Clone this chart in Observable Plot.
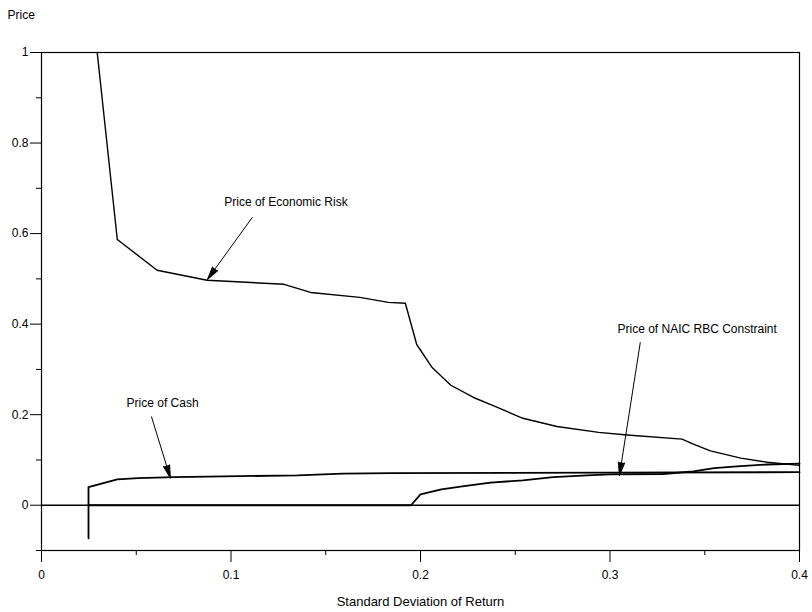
<!DOCTYPE html>
<html><head><meta charset="utf-8">
<script src="https://cdn.jsdelivr.net/npm/d3@7"></script>
<script src="https://cdn.jsdelivr.net/npm/@observablehq/plot@0.6"></script>
<style>body{margin:0;background:#fff}</style>
</head><body><div id="chart"></div>
<script>
// ---- data ----
const econX = [0.0294, 0.040, 0.061, 0.0874, 0.128, 0.142, 0.168, 0.183, 0.192, 0.198, 0.206, 0.216, 0.228, 0.239, 0.254, 0.272, 0.294, 0.309, 0.338, 0.344, 0.353, 0.369, 0.383, 0.400];
const econY = [1.000, 0.587, 0.519, 0.497, 0.488, 0.470, 0.459, 0.448, 0.446, 0.355, 0.305, 0.265, 0.238, 0.219, 0.192, 0.174, 0.161, 0.155, 0.146, 0.135, 0.120, 0.104, 0.095, 0.088];

const cashX = [0.0248, 0.0248, 0.040, 0.051, 0.070, 0.135, 0.159, 0.185, 0.300, 0.400];
const cashY = [-0.073, 0.040, 0.057, 0.060, 0.062, 0.066, 0.070, 0.071, 0.072, 0.073];

const naicX = [0.0248, 0.195, 0.200, 0.211, 0.223, 0.237, 0.254, 0.270, 0.288, 0.300, 0.328, 0.344, 0.355, 0.367, 0.383, 0.400];
const naicY = [0, 0, 0.024, 0.035, 0.042, 0.050, 0.055, 0.062, 0.066, 0.068, 0.069, 0.075, 0.082, 0.086, 0.090, 0.092];

const annLabels = ["Price of Economic Risk", "Price of Cash", "Price of NAIC RBC Constraint"];
const annTextX = [0.129, 0.0639, 0.346];
const annTextY = [0.669, 0.225, 0.389];
const arrowX1 = [0.1113, 0.058, 0.316];
const arrowY1 = [0.636, 0.196, 0.360];
const arrowX2 = [0.0876, 0.068, 0.305];
const arrowY2 = [0.499, 0.060, 0.066];

const yMajor = [0, 0.2, 0.4, 0.6, 0.8, 1];
const yMinor = [-0.1, 0.1, 0.3, 0.5, 0.7, 0.9];
const xMajor = [0, 0.1, 0.2, 0.3, 0.4];
const xMinor = [0.05, 0.15, 0.25, 0.35];

const yTitle = "Price";
const xTitle = "Standard Deviation of Return";

// ---- layout ----
const W = 812, H = 612, ML = 41, MR = 13, MT = 52, MB = 62;
const xDomain = [0, 0.4], yDomain = [-0.1, 1];
const kx = (W - ML - MR) / (xDomain[1] - xDomain[0]);
const ky = (H - MT - MB) / (yDomain[1] - yDomain[0]);
const FONT = "'Liberation Sans Narrow', 'Liberation Sans', Arial, sans-serif";

const rows = (xs, ys) => xs.map((x, i) => ({x, y: ys[i]}));
const ann = annLabels.map((t, i) => ({
  text: t, tx: annTextX[i], ty: annTextY[i],
  x1: arrowX1[i], y1: arrowY1[i], x2: arrowX2[i], y2: arrowY2[i],
  rot: Math.atan2((arrowX2[i] - arrowX1[i]) * kx, (arrowY2[i] - arrowY1[i]) * ky) * 180 / Math.PI
}));
const fmt = d => String(+(+d).toFixed(2));

const chart = Plot.plot({
  width: W, height: H,
  marginLeft: ML, marginRight: MR, marginTop: MT, marginBottom: MB,
  x: {domain: xDomain},
  y: {domain: yDomain},
  style: {fontFamily: FONT, fontSize: "12px", color: "black", background: "white"},
  marks: [
    Plot.frame({stroke: "black", strokeWidth: 1.2}),
    Plot.ruleY([0], {stroke: "black", strokeWidth: 1.5}),
    Plot.axisY({ticks: yMajor, tickSize: 11, tickPadding: 2, tickFormat: fmt, label: null, fontSize: 12}),
    Plot.axisY({ticks: yMinor, tickSize: 5, tickFormat: () => "", label: null}),
    Plot.axisX({ticks: xMajor, tickSize: 12, tickPadding: 8, tickFormat: fmt, label: null, fontSize: 12}),
    Plot.axisX({ticks: xMinor, tickSize: 5, tickFormat: () => "", label: null}),
    Plot.line(rows(econX, econY), {x: "x", y: "y", stroke: "black", strokeWidth: 1.4}),
    Plot.line(rows(cashX, cashY), {x: "x", y: "y", stroke: "black", strokeWidth: 1.8}),
    Plot.line(rows(naicX, naicY), {x: "x", y: "y", stroke: "black", strokeWidth: 1.8}),
    Plot.link(ann, {x1: "x1", y1: "y1", x2: "x2", y2: "y2", stroke: "black", strokeWidth: 1}),
    Plot.vector(ann, {x: "x2", y: "y2", rotate: "rot", length: 13, r: 3.2, shape: "spike", anchor: "end", fill: "black", fillOpacity: 1, stroke: "black", strokeWidth: 1}),
    Plot.text(ann, {x: "tx", y: "ty", text: "text", fontSize: 12, fill: "black"}),
    Plot.text([yTitle], {frameAnchor: "top-left", dx: -34, dy: -37, lineAnchor: "middle", textAnchor: "start", fontSize: 12, fill: "black"}),
    Plot.text([xTitle], {frameAnchor: "bottom", dy: 51, lineAnchor: "middle", fontSize: 13, fill: "black"})
  ]
});
document.getElementById("chart").appendChild(chart);
</script>
</body></html>
